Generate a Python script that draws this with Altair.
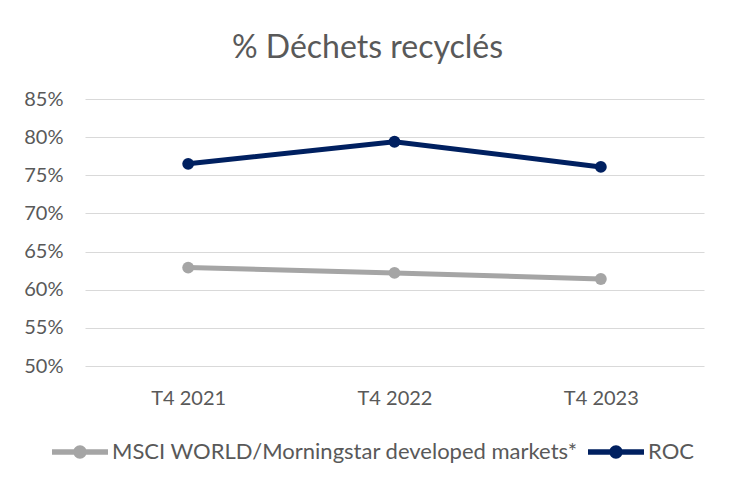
import altair as alt
import pandas as pd

periods = ["T4 2021", "T4 2022", "T4 2023"]
series_names = ["MSCI WORLD/Morningstar developed markets*", "ROC"]
msci_values = [0.629, 0.622, 0.614]
roc_values = [0.765, 0.794, 0.761]
y_ticks = [0.50, 0.55, 0.60, 0.65, 0.70, 0.75, 0.80, 0.85]
colors = ["#a5a5a5", "#002060"]

rows = []
for p, v in zip(periods, msci_values):
    rows.append({"period": p, "series": series_names[0], "value": v})
for p, v in zip(periods, roc_values):
    rows.append({"period": p, "series": series_names[1], "value": v})
df = pd.DataFrame(rows)

FONT = "Lato"
GREY = "#595959"

legend_symbol = (
    "M-1.5,-0.15 L1.5,-0.15 L1.5,0.15 L-1.5,0.15 Z "
    "M-0.36,0 A0.36,0.36 0 1,1 0.36,0 A0.36,0.36 0 1,1 -0.36,0 Z"
)

color = alt.Color(
    "series:N",
    scale=alt.Scale(domain=series_names, range=colors),
    legend=alt.Legend(
        title=None,
        orient="none",
        direction="horizontal",
        legendX=-24,
        legendY=334,
        symbolType=legend_symbol,
        symbolSize=1393,
        symbolStrokeWidth=0,
        symbolOpacity=1,
        labelOffset=13,
        columnPadding=10,
        labelFont=FONT,
        labelFontSize=22,
        labelColor=GREY,
        labelLimit=0,
    ),
)

base = alt.Chart(df).encode(
    x=alt.X(
        "period:N",
        sort=periods,
        scale=alt.Scale(type="point", padding=0.5),
        axis=alt.Axis(
            title=None,
            labelAngle=0,
            domain=False,
            ticks=False,
            grid=False,
            labelFont=FONT,
            labelFontSize=20,
            labelColor=GREY,
            labelPadding=22,
        ),
    ),
    y=alt.Y(
        "value:Q",
        scale=alt.Scale(domain=[0.5, 0.85], nice=False, zero=False),
        axis=alt.Axis(
            title=None,
            values=y_ticks,
            format=".0%",
            domain=False,
            ticks=False,
            grid=True,
            gridColor="#d9d9d9",
            gridWidth=1.2,
            labelFont=FONT,
            labelFontSize=20,
            labelColor=GREY,
            labelPadding=22,
        ),
    ),
    color=color,
)

lines = base.mark_line(strokeWidth=5)
points = base.mark_point(filled=True, size=140, opacity=1, shape="circle")

chart = (
    alt.layer(lines, points)
    .properties(
        width=619,
        height=267,
        autosize=alt.AutoSizeParams(type="none"),
        padding={"left": 77, "top": 91, "right": 22, "bottom": 117},
        title=alt.TitleParams(
            "% Déchets recyclés",
            font=FONT,
            fontSize=32,
            fontWeight="normal",
            color=GREY,
            anchor="middle",
            frame="group",
            dx=-27,
            offset=24,
        ),
    )
    .configure(background="white")
    .configure_view(stroke=None)
)

chart.save("out.html", embed_options={"renderer": "svg", "actions": False})
